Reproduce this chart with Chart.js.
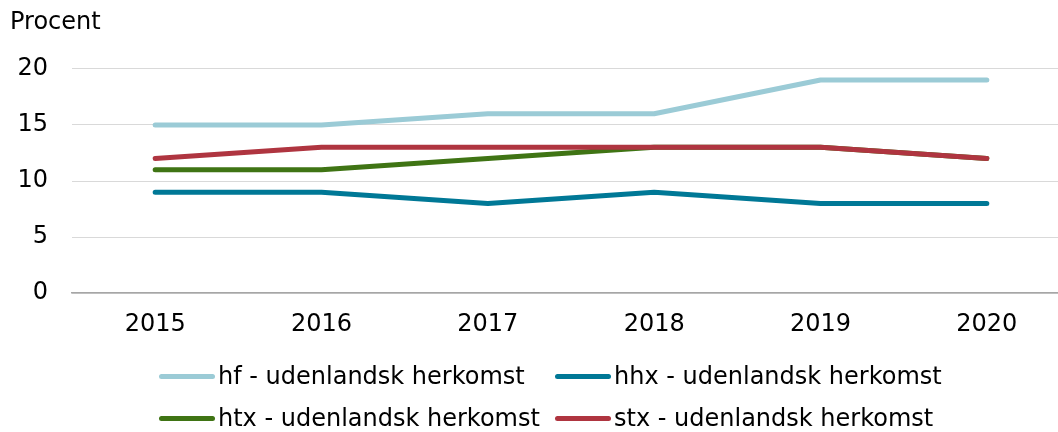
<!DOCTYPE html>
<html>
<head>
<meta charset="utf-8">
<script src="https://cdn.jsdelivr.net/npm/chart.js@4/dist/chart.umd.min.js"></script>
<style>
  body { margin: 0; background: #fff; overflow: hidden; font-family: "DejaVu Sans", Verdana, sans-serif; }
  #wrap { position: relative; width: 1070px; height: 361px; }
  #legend { position: absolute; left: 0; top: 0; width: 1058px; height: 432px; pointer-events: none; }
  .item { position: absolute; display: flex; align-items: center; font-size: 24px; color: #000; white-space: nowrap; }
  .swatch { width: 56px; height: 5px; border-radius: 3px; margin-right: 3px; }
</style>
</head>
<body>
<div id="wrap"><canvas id="chart"></canvas></div>
<div id="legend"></div>
<script>
// values
var years = ['2015', '2016', '2017', '2018', '2019', '2020'];
var hf  = [15, 15, 16, 16, 19, 19];
var hhx = [9, 9, 8, 9, 8, 8];
var htx = [11, 11, 12, 13, 13, 12];
var stx = [12, 13, 13, 13, 13, 12];
var seriesNames = ['hf - udenlandsk herkomst', 'hhx - udenlandsk herkomst', 'htx - udenlandsk herkomst', 'stx - udenlandsk herkomst'];
var seriesColors = ['#9BCBD6', '#007896', '#3F7414', '#AF3540'];

var font = "'DejaVu Sans', Verdana, sans-serif";

function line(i, values) {
  return {
    label: seriesNames[i],
    data: values,
    borderColor: seriesColors[i],
    backgroundColor: seriesColors[i],
    borderWidth: 5,
    borderCapStyle: 'round',
    borderJoinStyle: 'round',
    pointRadius: 0,
    tension: 0,
    order: 3 - i   // later series on top, like the original
  };
}

var ctx = document.getElementById('chart').getContext('2d');
var mychart = new Chart(ctx, {
  type: 'line',
  data: {
    labels: years,
    datasets: [line(0, hf), line(1, hhx), line(2, htx), line(3, stx)]
  },
  options: {
    responsive: true,
    maintainAspectRatio: false,
    animation: false,
    layout: { padding: { left: 10, right: 0, top: 0, bottom: 5 } },
    plugins: {
      legend: { display: false },
      tooltip: { enabled: false },
      title: {
        display: true,
        text: 'Procent',
        align: 'start',
        color: '#000',
        font: { family: font, size: 24, weight: 'normal' },
        padding: { top: 8, bottom: 32 }
      }
    },
    scales: {
      x: {
        offset: true,
        grid: { display: false, drawTicks: false },
        border: { display: true, color: '#a6a6a6', width: 1.5 },
        ticks: { color: '#000', padding: 17, font: { family: font, size: 24 } }
      },
      y: {
        min: 0,
        max: 20,
        afterFit: function(scale) { scale.width = 62; },
        grid: { color: '#d9d9d9', lineWidth: 1, drawTicks: false },
        border: { display: false },
        ticks: { stepSize: 5, color: '#000', padding: 24, font: { family: font, size: 24 } }
      }
    }
  }
});

// legend laid out as a 2x2 grid below the chart
var legend = document.getElementById('legend');
var colX = [159, 555];
var rowY = [376, 418];
mychart.data.datasets.forEach(function(ds, i) {
  var item = document.createElement('div');
  item.className = 'item';
  item.style.left = colX[i % 2] + 'px';
  item.style.top = (rowY[Math.floor(i / 2)] - 15) + 'px';
  item.style.height = '30px';
  var sw = document.createElement('span');
  sw.className = 'swatch';
  sw.style.backgroundColor = ds.borderColor;
  var tx = document.createElement('span');
  tx.textContent = ds.label;
  item.appendChild(sw);
  item.appendChild(tx);
  legend.appendChild(item);
});
</script>
</body>
</html>
